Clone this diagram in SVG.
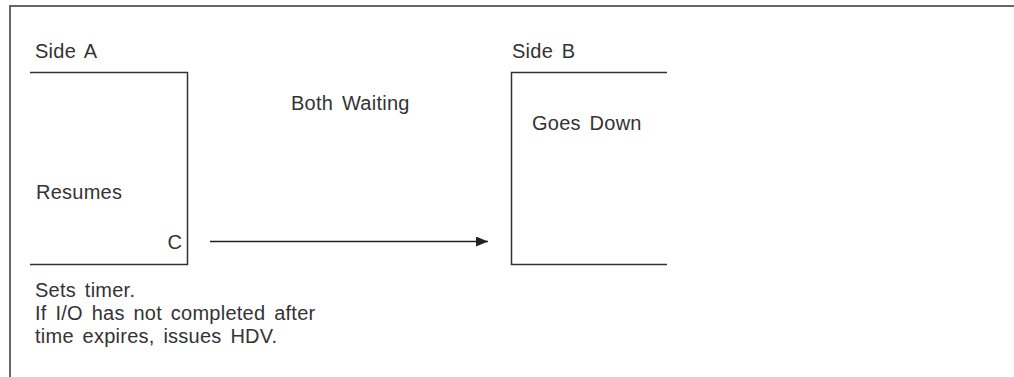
<svg xmlns="http://www.w3.org/2000/svg" width="1014" height="377" viewBox="0 0 1014 377">
<style>
text { font-family: "Liberation Sans", Arial, sans-serif; font-size: 20px; fill: #333; letter-spacing: 0.25px; word-spacing: 3px; }
.frame { fill: none; stroke: #666; stroke-width: 2; }
.box { fill: none; stroke: #333; stroke-width: 1.5; }
.conn { fill: none; stroke: #222; stroke-width: 1.5; }
</style>
<defs>
<marker id="arr" viewBox="0 0 12 10" refX="12" refY="5" markerWidth="12" markerHeight="10" markerUnits="userSpaceOnUse" orient="auto">
<path d="M0,0 L12,5 L0,10 Z" fill="#222"/>
</marker>
</defs>
<rect width="1014" height="377" fill="#fff"/>
<path class="frame" d="M10,377 V6 H1014"/>
<g id="sideA">
<text x="35" y="58">Side A</text>
<path class="box" d="M30,72.5 H187.5 V264.5 H30"/>
<text x="36" y="199">Resumes</text>
<text x="182" y="249" text-anchor="end" style="letter-spacing:0">C</text>
</g>
<g id="waiting">
<text x="291" y="110">Both Waiting</text>
</g>
<g id="sideB">
<text x="512" y="58">Side B</text>
<path class="box" d="M667,72.5 H511.5 V264.5 H667"/>
<text x="532" y="130">Goes Down</text>
</g>
<g id="note">
<text x="35" y="297">Sets timer.</text>
<text x="35" y="320">If I/O has not completed after</text>
<text x="35" y="343">time expires, issues HDV.</text>
</g>
<g id="connectors">
<line class="conn" x1="210" y1="241.5" x2="488" y2="241.5" marker-end="url(#arr)"/>
</g>
</svg>
